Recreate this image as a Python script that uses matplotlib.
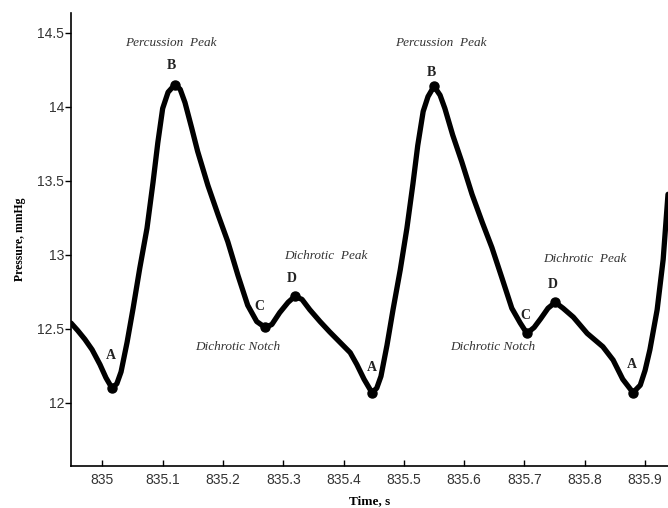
import matplotlib
matplotlib.use("Agg")
import matplotlib.pyplot as plt

# Pressure waveform (time in s, pressure in mmHg)
tiempo = [
    834.948, 834.959, 834.971, 834.983, 834.996, 835.006, 835.016,
    835.024, 835.031, 835.041, 835.051, 835.062, 835.074, 835.084, 835.092,
    835.100, 835.109, 835.120,
    835.129, 835.137, 835.148, 835.158, 835.175, 835.192, 835.208, 835.225,
    835.241, 835.256, 835.270,
    835.281, 835.294, 835.308, 835.319,
    835.331, 835.344, 835.361, 835.377, 835.394, 835.411, 835.422, 835.434, 835.447,
    835.455, 835.462, 835.472, 835.482, 835.494, 835.505, 835.515, 835.523,
    835.532, 835.540, 835.550,
    835.560, 835.568, 835.581, 835.596, 835.613, 835.630, 835.646, 835.663,
    835.679, 835.693, 835.704,
    835.716, 835.727, 835.739, 835.751,
    835.764, 835.781, 835.804, 835.830, 835.847, 835.863, 835.880,
    835.892, 835.900, 835.908, 835.920, 835.930, 835.938,
]
presion = [
    12.54, 12.49, 12.43, 12.36, 12.26, 12.17, 12.10,
    12.13, 12.21, 12.41, 12.64, 12.91, 13.18, 13.49, 13.76,
    13.99, 14.10, 14.15,
    14.12, 14.03, 13.86, 13.70, 13.47, 13.27, 13.09, 12.86,
    12.66, 12.55, 12.51,
    12.53, 12.61, 12.68, 12.72,
    12.70, 12.63, 12.55, 12.48, 12.41, 12.34, 12.26, 12.16, 12.07,
    12.10, 12.18, 12.39, 12.63, 12.90, 13.18, 13.48, 13.74,
    13.97, 14.07, 14.14,
    14.08, 13.99, 13.81, 13.63, 13.41, 13.22, 13.05, 12.84,
    12.64, 12.54, 12.47,
    12.51, 12.57, 12.64, 12.68,
    12.64, 12.58, 12.47, 12.38, 12.29, 12.16, 12.07,
    12.12, 12.22, 12.36, 12.63, 12.97, 13.41,
]

# Characteristic points of each beat
puntos = ["A", "B", "C", "D", "A", "B", "C", "D", "A"]
t_puntos = [835.016, 835.120, 835.270, 835.319, 835.447, 835.550, 835.704, 835.751, 835.880]
p_puntos = [12.10, 14.15, 12.51, 12.72, 12.07, 14.14, 12.47, 12.68, 12.07]

# Where each letter sits and the descriptive notes
t_letras = [835.014, 835.114, 835.261, 835.314, 835.447, 835.545, 835.701, 835.747, 835.878]
p_letras = [12.32, 14.28, 12.65, 12.84, 12.24, 14.23, 12.59, 12.80, 12.26]

notas = ["Percussion  Peak", "Dichrotic  Peak", "Dichrotic Notch",
         "Percussion  Peak", "Dichrotic  Peak", "Dichrotic Notch"]
t_notas = [835.114, 835.371, 835.225, 835.562, 835.800, 835.648]
p_notas = [14.43, 12.99, 12.38, 14.43, 12.97, 12.38]

fig = plt.figure(figsize=(6.68, 5.08), dpi=100)
ax = fig.add_axes([0.1063, 0.0827, 0.8937, 0.8917])

ax.plot(tiempo, presion, color="black", lw=3.8, solid_capstyle="round",
        solid_joinstyle="round")
ax.plot(t_puntos, p_puntos, "o", color="black", ms=6.5)

for letra, t, p in zip(puntos, t_letras, p_letras):
    ax.text(t, p, letra, ha="center", va="center", fontsize=10,
            fontweight="bold", family="Liberation Serif", color="#222222",
            zorder=5)

for nota, t, p in zip(notas, t_notas, p_notas):
    ax.text(t, p, nota, ha="center", va="center", fontsize=9.5,
            style="italic", family="Liberation Serif", color="#333333")

ax.set_xlim(834.948, 835.938)
ax.set_ylim(11.574, 14.635)
ax.set_xticks([835, 835.1, 835.2, 835.3, 835.4, 835.5, 835.6, 835.7, 835.8, 835.9])
ax.set_xticklabels(["835", "835.1", "835.2", "835.3", "835.4", "835.5",
                    "835.6", "835.7", "835.8", "835.9"])
ax.set_yticks([12, 12.5, 13, 13.5, 14, 14.5])
ax.set_yticklabels(["12", "12.5", "13", "13.5", "14", "14.5"])

ax.spines["top"].set_visible(False)
ax.spines["right"].set_visible(False)
ax.spines["left"].set_linewidth(1.2)
ax.spines["bottom"].set_linewidth(1.2)

ax.tick_params(axis="x", direction="in", length=4, width=1, pad=5,
               labelsize=10, labelcolor="#333333")
ax.tick_params(axis="y", direction="out", length=4, width=1, pad=1,
               labelsize=10, labelcolor="#333333")
for lab in ax.get_xticklabels() + ax.get_yticklabels():
    lab.set_family("Liberation Sans")

ax.set_xlabel("Time, s", family="Liberation Serif", fontweight="bold",
              fontsize=9.5, labelpad=6)
ax.set_ylabel("Pressure, mmHg", family="Liberation Serif", fontweight="bold",
              fontsize=8.5, labelpad=8)

fig.savefig("out.png", dpi=100)
